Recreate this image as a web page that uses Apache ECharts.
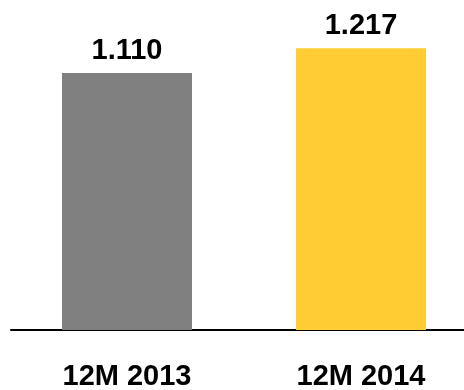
<!DOCTYPE html>
<html>
<head>
<meta charset="utf-8">
<script src="https://cdn.jsdelivr.net/npm/echarts@6/dist/echarts.min.js"></script>
<style>
  html, body { margin: 0; padding: 0; background: #fff; }
  #chart { width: 464px; height: 390px; }
</style>
</head>
<body>
<div id="chart"></div>
<script>
// Period totals
const categories = ['12M 2013', '12M 2014'];
const values = [1.110, 1.217];
const barColors = ['#808080', '#FFCC33'];

const chart = echarts.init(document.getElementById('chart'), null, { renderer: 'canvas' });

const labelFont = {
  color: '#000',
  fontFamily: 'Liberation Sans, Arial, sans-serif',
  fontWeight: 'bold',
  fontSize: 29
};

chart.setOption({
  animation: false,
  grid: [
    // bar grid: category points sit at the grid edges
    { left: 127, right: 103, top: 6, bottom: 60, outerBoundsMode: 'none' },
    // baseline grid spanning the full width
    { left: 11, right: 0, top: 6, bottom: 60, outerBoundsMode: 'none' }
  ],
  xAxis: [
    {
      type: 'category',
      gridIndex: 0,
      data: categories,
      boundaryGap: false,
      axisLine: { show: false },
      axisTick: { show: false },
      axisLabel: Object.assign({ margin: 32, interval: 0 }, labelFont)
    },
    {
      type: 'value',
      gridIndex: 1,
      min: 0,
      max: 1,
      axisLine: { show: true, onZero: false, lineStyle: { color: '#000', width: 2 } },
      axisTick: { show: false },
      axisLabel: { show: false },
      splitLine: { show: false }
    }
  ],
  yAxis: [
    { type: 'value', gridIndex: 0, min: 0, max: 1.4, show: false, splitLine: { show: false } },
    { type: 'value', gridIndex: 1, min: 0, max: 1.4, show: false, splitLine: { show: false } }
  ],
  series: [{
    type: 'bar',
    xAxisIndex: 0,
    yAxisIndex: 0,
    barWidth: 130,
    clip: false,
    data: values.map((v, i) => ({ value: v, itemStyle: { color: barColors[i] } })),
    label: Object.assign({
      show: true,
      position: 'top',
      distance: 8,
      formatter: p => p.value.toFixed(3)
    }, labelFont)
  }]
});
</script>
</body>
</html>
